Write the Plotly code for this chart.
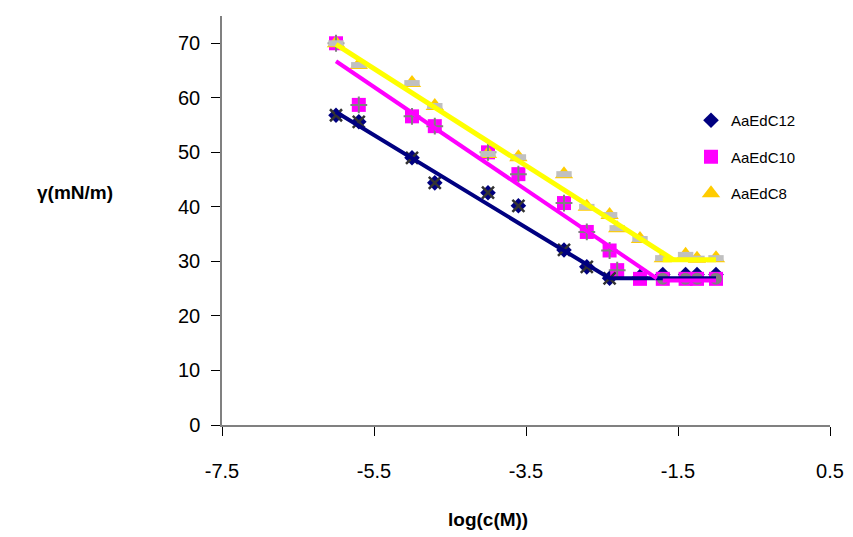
import plotly.graph_objects as go

# ---- data ----
c12_x = [-6.0, -5.7, -5.0, -4.7, -4.0, -3.6, -3.0, -2.7, -2.4, -2.0, -1.7, -1.4, -1.25, -1.0]
c12_y = [56.8, 55.6, 49.0, 44.4, 42.6, 40.2, 32.1, 29.0, 26.9, 27.2, 27.6, 27.6, 27.6, 27.6]

c10_x = [-6.0, -5.7, -5.0, -4.7, -4.0, -3.6, -3.0, -2.7, -2.4, -2.3, -2.0, -1.7, -1.4, -1.25, -1.0]
c10_y = [70.0, 58.7, 56.6, 54.8, 50.0, 46.0, 40.7, 35.4, 32.0, 28.4, 26.8, 26.8, 26.8, 26.8, 26.8]

c8_x = [-6.0, -5.7, -5.0, -4.7, -4.0, -3.6, -3.0, -2.7, -2.4, -2.3, -2.0, -1.7, -1.4, -1.25, -1.0]
c8_y = [70.0, 66.0, 62.7, 58.5, 49.7, 49.1, 46.0, 40.0, 38.5, 36.1, 34.1, 30.6, 31.2, 30.5, 30.6]

# duplicate-measurement overlays (grey markers)
dup12_x = c12_x[:9]
dup12_y = c12_y[:9]
plateau_x = [-1.7, -1.4, -1.25, -1.0]
plateau_y = [26.8, 26.8, 26.8, 26.8]

# fitted lines
fit12_x = [-6.0, -2.4, -1.0]
fit12_y = [57.4, 26.9, 26.9]
fit10_x = [-6.0, -1.78, None, -1.7, -1.0]
fit10_y = [66.7, 26.9, None, 26.5, 26.5]
fit8_x = [-6.0, -1.56, None, -1.7, -1.0]
fit8_y = [69.8, 30.3, None, 30.3, 30.3]

x_ticks = [-7.5, -5.5, -3.5, -1.5, 0.5]
y_ticks = [0, 10, 20, 30, 40, 50, 60, 70]

NAVY = "#000080"
MAG = "#FF00FF"
YEL = "#FFFF00"
GOLD = "#FFCC00"

fig = go.Figure()

fig.add_trace(go.Scatter(x=c12_x, y=c12_y, mode="markers", name="AaEdC12",
                         legendgroup="a",
                         marker=dict(symbol="diamond", size=12, color=NAVY, line=dict(width=0))))
fig.add_trace(go.Scatter(x=c10_x, y=c10_y, mode="markers", name="AaEdC10",
                         legendgroup="b",
                         marker=dict(symbol="square", size=14, color=MAG, line=dict(width=0))))
fig.add_trace(go.Scatter(x=c8_x, y=c8_y, mode="markers", name="AaEdC8",
                         legendgroup="c",
                         marker=dict(symbol="triangle-up", size=16, color=GOLD, line=dict(width=0))))

# grey overlays
fig.add_trace(go.Scatter(x=dup12_x, y=dup12_y, mode="markers", showlegend=False,
                         marker=dict(symbol="x-thin", size=12, line=dict(width=2.5, color="#333333"))))
fig.add_trace(go.Scatter(x=c10_x[:10], y=c10_y[:10], mode="markers", showlegend=False,
                         marker=dict(symbol="cross-thin", size=12, line=dict(width=2, color="#808080"))))
fig.add_trace(go.Scatter(x=c8_x, y=c8_y, mode="markers", showlegend=False,
                         marker=dict(symbol="line-ew", size=11, line=dict(width=6, color="#C0C0C0"))))
fig.add_trace(go.Scatter(x=plateau_x, y=plateau_y, mode="markers", showlegend=False,
                         marker=dict(symbol="circle", size=12, color="#808080", line=dict(width=0))))

# fit lines
fig.add_trace(go.Scatter(x=fit12_x, y=fit12_y, mode="lines", showlegend=False,
                         line=dict(color=NAVY, width=4)))
fig.add_trace(go.Scatter(x=fit10_x, y=fit10_y, mode="lines", showlegend=False,
                         line=dict(color=MAG, width=4)))
fig.add_trace(go.Scatter(x=fit8_x, y=fit8_y, mode="lines", showlegend=False,
                         line=dict(color=YEL, width=5)))

FONT = "Liberation Sans, Arial, sans-serif"

# page has an 8px body margin: work in figure coordinates = page - 8
OFF = 8
PL, PR, PT, PB = 222 - OFF, 830 - OFF, 16 - OFF, 425 - OFF
W, H = 853, 537
PW, PH = PR - PL, PB - PT


def px(xp):
    return (xp - OFF - PL) / PW


def py(yp):
    return (PB - (yp - OFF)) / PH


fig.update_layout(
    width=W, height=H,
    margin=dict(l=PL, r=W - PR, t=PT, b=H - PB),
    paper_bgcolor="white", plot_bgcolor="white",
    font=dict(family=FONT, size=20, color="black"),
    showlegend=True,
    legend=dict(x=px(691), xanchor="left", y=py(104), yanchor="top",
                font=dict(family=FONT, size=15, color="black"),
                bgcolor="rgba(0,0,0,0)", tracegroupgap=14,
                traceorder="grouped", itemwidth=30),
    xaxis=dict(range=[-7.5, 0.5], tickvals=x_ticks, ticktext=[str(v) for v in x_ticks],
               showgrid=False, zeroline=False, showline=True, linecolor="#808080", linewidth=1.5,
               ticks="outside", ticklen=9, tickcolor="#000000", tickwidth=1,
               ticklabelstandoff=18, tickfont=dict(size=20)),
    yaxis=dict(range=[0, 75], tickvals=y_ticks,
               showgrid=False, zeroline=False, showline=True, linecolor="#808080", linewidth=1.5,
               ticks="outside", ticklen=9, tickcolor="#000000", tickwidth=1,
               ticklabelstandoff=7, tickfont=dict(size=20)),
    annotations=[
        dict(text="<b>γ(mN/m)</b>", xref="paper", yref="paper",
             x=px(75), y=py(192), xanchor="center", yanchor="middle",
             showarrow=False, font=dict(family=FONT, size=19, color="black")),
        dict(text="<b>log(c(M))</b>", xref="paper", yref="paper",
             x=px(488), y=py(519), xanchor="center", yanchor="middle",
             showarrow=False, font=dict(family=FONT, size=19, color="black")),
    ],
)

fig.write_html("out.html")
